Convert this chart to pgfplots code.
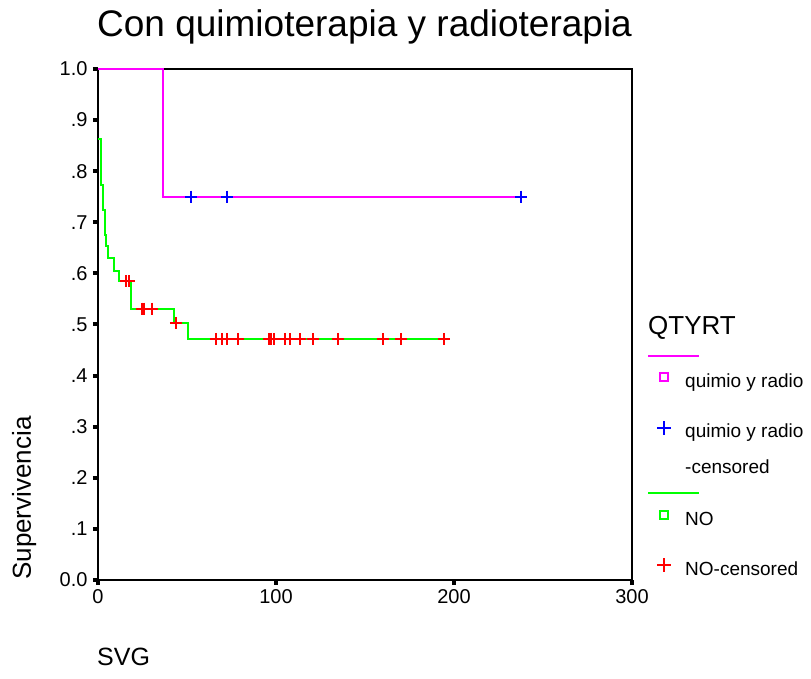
\documentclass[border=0pt]{standalone}
\usepackage{fontspec}
\setmainfont{Liberation Sans}
\usepackage{pgfplots}
\pgfplotsset{compat=1.18}
\definecolor{mag}{RGB}{255,0,255}
\definecolor{grn}{RGB}{0,255,0}
\definecolor{blu}{RGB}{0,0,255}
\definecolor{rd}{RGB}{255,0,0}
\begin{document}
\begin{tikzpicture}[x=1pt,y=1pt]
\path[use as bounding box] (0,0) rectangle (811,679);
\begin{axis}[
  at={(98pt,99pt)}, anchor=south west, scale only axis,
  width=534pt, height=511pt,
  xmin=0, xmax=300, ymin=0, ymax=1,
  axis line style={line width=2pt},
  xtick={0,100,200,300}, xticklabels={0,100,200,300},
  ytick={0,0.1,0.2,0.3,0.4,0.5,0.6,0.7,0.8,0.9,1},
  yticklabels={0.0,.1,.2,.3,.4,.5,.6,.7,.8,.9,1.0},
  xtick pos=bottom, ytick pos=left,
  tick align=outside, major tick length=5pt,
  tick style={black, line width=4pt},
  ticklabel style={font=\fontsize{20}{24}\selectfont},
  yticklabel style={xshift=-2pt},
  xticklabel style={yshift=-1pt},
  /pgf/number format/assume math mode=true,
  clip=false,
]
% quimio y radio
\addplot[const plot, mag, line width=2pt, mark=none] coordinates {
  (0,1) (36.6,0.75) (238,0.75)
};
% NO
\addplot[const plot, grn, line width=2pt, mark=none] coordinates {
  (0,0.863) (1.7,0.773) (2.8,0.724) (3.9,0.675) (4.7,0.654) (5.8,0.631)
  (8.8,0.605) (12.0,0.585) (18.3,0.531) (42.9,0.503) (50.3,0.472) (194.6,0.472)
};
% quimio y radio censored
\addplot[only marks, mark=+, mark size=6pt, blu, line width=2pt] coordinates {
  (52.2,0.75) (72.2,0.75) (237.8,0.75)
};
% NO censored
\addplot[only marks, mark=+, mark size=6pt, rd, line width=2pt] coordinates {
  (15.5,0.585) (17.3,0.585)
  (24.6,0.531) (25.7,0.531) (30.4,0.531)
  (43.7,0.503)
  (66.2,0.472) (69.4,0.472) (72.4,0.472) (78.7,0.472) (96.1,0.472) (97.4,0.472)
  (98.9,0.472) (105.1,0.472) (107.9,0.472) (113.5,0.472) (121.0,0.472)
  (134.8,0.472) (160.0,0.472) (170.3,0.472) (194.6,0.472)
};
\end{axis}
% title and axis labels
\node[anchor=base west, inner sep=0, font=\fontsize{37}{40}\selectfont] at (97,642) {Con quimioterapia y radioterapia};
\node[anchor=base west, inner sep=0, font=\fontsize{25}{28}\selectfont] at (97,13) {SVG};
\node[anchor=base west, inner sep=0, rotate=90, font=\fontsize{26}{28}\selectfont] at (31,99) {Supervivencia};
% legend
\node[anchor=base west, inner sep=0, font=\fontsize{26}{28}\selectfont] at (648,344) {QTYRT};
\draw[mag, line width=2pt] (648,323) -- (699,323);
\node[draw=mag, line width=1.5pt, minimum size=8pt, inner sep=0] at (664,302) {};
\node[anchor=base west, inner sep=0, font=\fontsize{19}{22}\selectfont] at (685,291) {quimio y radio};
\draw[blu, line width=2pt] (657,251) -- (671,251) (664,244) -- (664,258);
\node[anchor=base west, inner sep=0, font=\fontsize{19}{22}\selectfont] at (685,241) {quimio y radio};
\node[anchor=base west, inner sep=0, font=\fontsize{19}{22}\selectfont] at (685,205) {-censored};
\draw[grn, line width=2pt] (648,186) -- (699,186);
\node[draw=grn, line width=1.5pt, minimum size=8pt, inner sep=0] at (664,164) {};
\node[anchor=base west, inner sep=0, font=\fontsize{19}{22}\selectfont] at (685,153) {NO};
\draw[rd, line width=2pt] (657,114) -- (671,114) (664,107) -- (664,121);
\node[anchor=base west, inner sep=0, font=\fontsize{19}{22}\selectfont] at (685,103) {NO-censored};
\end{tikzpicture}
\end{document}
